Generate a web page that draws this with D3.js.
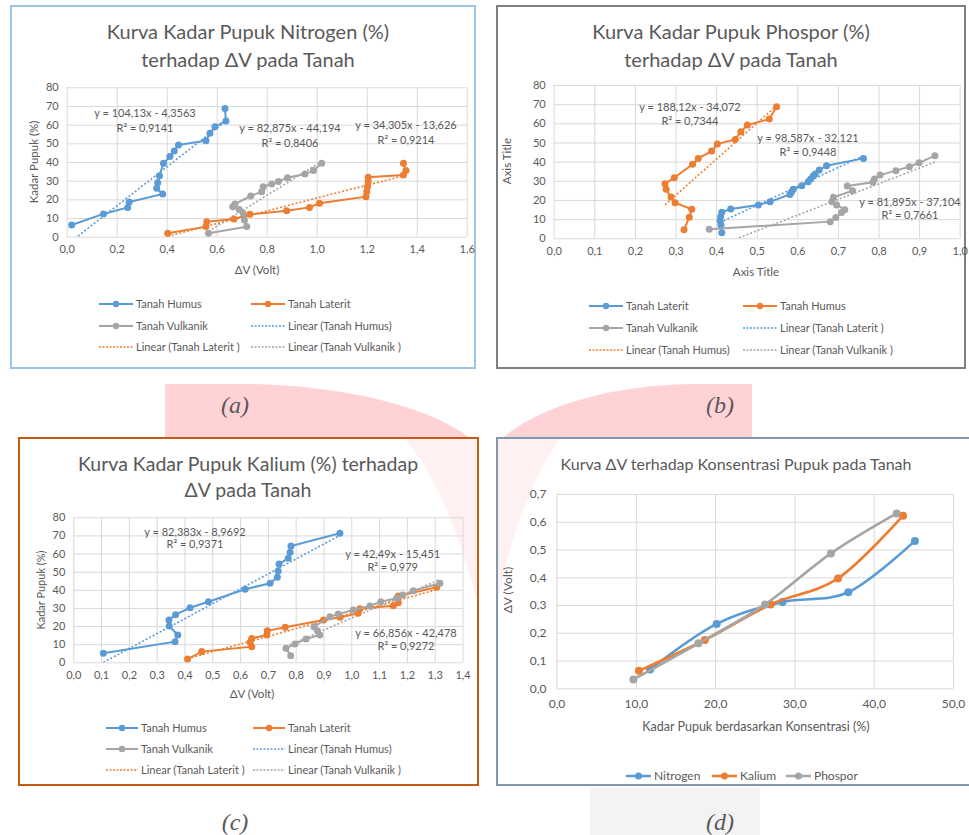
<!DOCTYPE html>
<html><head><meta charset="utf-8">
<script src="https://cdn.jsdelivr.net/npm/d3@7"></script>
<style>
body{margin:0;background:#fff}
svg{display:block}
text{font-family:Lato,'Noto Sans',sans-serif;fill:#595959}
</style></head>
<body><svg id="svg" width="969" height="835"></svg>
<script>
// ---------------- DATA ----------------
// Panel (a) Nitrogen
const aTitle = ["Kurva Kadar Pupuk Nitrogen (%)", "terhadap \u0394V pada Tanah"];
const aXTicks = [0,0.2,0.4,0.6,0.8,1.0,1.2,1.4,1.6];
const aYTicks = [0,10,20,30,40,50,60,70,80];
const aHumus = [[0.02,6.3],[0.147,12.2],[0.244,15.7],[0.25,18.6],[0.384,22.9],[0.36,25.9],[0.364,28.9],[0.371,32.7],[0.387,39.3],[0.413,42.9],[0.43,45.9],[0.447,49.1],[0.557,51.4],[0.573,55.4],[0.593,58.9],[0.637,62],[0.633,68.6]];
const aLaterit = [[0.404,1.8],[0.557,5.4],[0.56,8.0],[0.669,9.5],[0.733,12.0],[0.88,13.9],[0.971,15.7],[1.011,17.9],[1.197,21.4],[1.2,24.1],[1.203,26.8],[1.206,29.5],[1.206,31.9],[1.347,33],[1.357,35.4],[1.347,39.3]];
const aVulkanik = [[0.567,1.8],[0.72,5.4],[0.711,8.9],[0.706,12.5],[0.69,14.5],[0.664,16.1],[0.673,17.5],[0.736,21.8],[0.78,24.1],[0.786,26.8],[0.82,28.2],[0.847,29.5],[0.883,31.6],[0.953,33.6],[0.987,35.4],[1.02,39.3]];
const aTrendSlope = [104.13, 34.305, 82.875];
const aTrendIntercept = [-4.3563, -13.626, -44.194];
const aEq = ["y = 104,13x - 4,3563", "y = 34,305x - 13,626", "y = 82,875x - 44,194"];
const aR2 = ["R\u00b2 = 0,9141", "R\u00b2 = 0,9214", "R\u00b2 = 0,8406"];
const aLegend = ["Tanah Humus","Tanah Laterit","Tanah Vulkanik","Linear (Tanah Humus)","Linear (Tanah Laterit )","Linear (Tanah Vulkanik )"];

// Panel (b) Phospor
const bTitle = ["Kurva Kadar Pupuk Phospor (%)", "terhadap \u0394V pada Tanah"];
const bXTicks = [0,0.1,0.2,0.3,0.4,0.5,0.6,0.7,0.8,0.9,1.0];
const bYTicks = [0,10,20,30,40,50,60,70,80];
const bLaterit = [[0.414,2.9],[0.412,6.9],[0.41,9.2],[0.411,11.3],[0.414,13.6],[0.436,15.3],[0.504,17.4],[0.533,19.1],[0.582,22.9],[0.586,24.3],[0.59,25.6],[0.611,27.4],[0.627,29.5],[0.633,30.9],[0.639,32.5],[0.644,33.5],[0.654,35.6],[0.672,37.9],[0.763,41.7]];
const bHumus = [[0.321,4.5],[0.334,11.0],[0.34,15.1],[0.299,18.6],[0.289,21.5],[0.277,25.6],[0.274,28.5],[0.297,31.6],[0.342,38.6],[0.356,41.7],[0.389,45.5],[0.403,49.2],[0.447,51.6],[0.461,55.6],[0.477,59.1],[0.531,62.2],[0.549,68.7]];
const bVulkanik = [[0.383,4.7],[0.681,8.7],[0.695,10.9],[0.709,13.4],[0.717,14.9],[0.697,17.4],[0.685,19.1],[0.689,21.4],[0.736,24.8],[0.723,27.3],[0.786,29.2],[0.79,30.9],[0.804,33.0],[0.843,35.3],[0.876,37.4],[0.9,39.4],[0.939,43.1]];
const bTrendSlope = [98.587, 188.12, 81.895];
const bTrendIntercept = [-32.121, -34.072, -37.104];
const bEq = ["y = 98,587x - 32,121", "y = 188,12x - 34,072", "y = 81,895x - 37,104"];
const bR2 = ["R\u00b2 = 0,9448", "R\u00b2 = 0,7344", "R\u00b2 = 0,7661"];
const bLegend = ["Tanah Laterit","Tanah Humus","Tanah Vulkanik","Linear (Tanah Laterit )","Linear (Tanah Humus)","Linear (Tanah Vulkanik )"];

// Panel (c) Kalium
const cTitle = ["Kurva Kadar Pupuk Kalium (%) terhadap", "\u0394V pada Tanah"];
const cXTicks = [0,0.1,0.2,0.3,0.4,0.5,0.6,0.7,0.8,0.9,1.0,1.1,1.2,1.3,1.4];
const cYTicks = [0,10,20,30,40,50,60,70,80];
const cHumus = [[0.108,5.0],[0.366,11.4],[0.376,15.1],[0.345,20.0],[0.344,23.3],[0.368,26.3],[0.42,30.1],[0.486,33.4],[0.618,40.3],[0.708,43.6],[0.734,46.9],[0.737,50.4],[0.74,54.2],[0.773,57.4],[0.78,60.7],[0.783,64.2],[0.959,71.2]];
const cLaterit = [[0.411,1.8],[0.462,5.9],[0.642,8.6],[0.636,11.0],[0.642,13.2],[0.696,15.1],[0.698,17.4],[0.762,19.3],[0.9,23.3],[0.96,24.8],[1.025,27.0],[1.031,29.6],[1.151,31.2],[1.169,32.9],[1.169,36.6],[1.307,41.4]];
const cVulkanik = [[0.782,3.6],[0.765,7.7],[0.797,10.1],[0.837,12.9],[0.887,15.1],[0.878,17.4],[0.866,19.6],[0.923,25.2],[0.953,26.6],[1.007,28.9],[1.067,31.1],[1.106,33.4],[1.163,35.3],[1.185,37.1],[1.223,39.5],[1.319,43.6]];
const cTrendSlope = [82.383, 42.49, 66.856];
const cTrendIntercept = [-8.9692, -15.451, -42.478];
const cEq = ["y = 82,383x - 8,9692", "y = 42,49x - 15,451", "y = 66,856x - 42,478"];
const cR2 = ["R\u00b2 = 0,9371", "R\u00b2 = 0,979", "R\u00b2 = 0,9272"];
const cLegend = aLegend;

// Panel (d) dV vs concentration
const dTitle = "Kurva \u0394V terhadap Konsentrasi  Pupuk pada Tanah";
const dXTicks = [0,10,20,30,40,50];
const dYTicks = [0,0.1,0.2,0.3,0.4,0.5,0.6,0.7];
const dNitrogen = [[11.8,0.068],[20.2,0.232],[28.5,0.311],[36.8,0.346],[45.2,0.531]];
const dKalium = [[10.4,0.063],[18.7,0.174],[27.0,0.302],[35.5,0.396],[43.7,0.622]];
const dPhospor = [[9.7,0.032],[17.9,0.162],[26.3,0.302],[34.6,0.486],[42.9,0.630]];
const dLegend = ["Nitrogen","Kalium","Phospor"];

const panelLabels = ["(a)","(b)","(c)","(d)"];

// ---------------- DRAWING ----------------
const BLUE="#5B9BD5", ORANGE="#ED7D31", GRAY="#A5A5A5", TXT="#595959", GRID="#D9D9D9";
const PINK="#FFD3D6";
const svg = d3.select("#svg");
const loc = d3.formatLocale({decimal:",", thousands:".", grouping:[3], currency:["",""]});
const f1 = loc.format(".1f");
const fInt = d3.format("d");

// decorative background shapes
svg.append("path").attr("d","M165,384 L165,440 L472,440 C430,405 340,386 250,384 Z").attr("fill",PINK);
svg.append("path").attr("d","M752,384 L752,440 L500,440 C540,405 610,386 690,384 Z").attr("fill",PINK);
svg.append("rect").attr("x",590).attr("y",788).attr("width",170).attr("height",47).attr("fill","#F3F3F3");

const frames = [[11,6,464,362,"#9DC3E6"],[497,6,468,362,"#7F7F7F"],[19,438,459,347,"#C55A11"],[497,438,474,347,"#8497B0"]];
frames.forEach(f=>svg.append("rect").attr("x",f[0]).attr("y",f[1]).attr("width",f[2]).attr("height",f[3]).attr("fill","#fff"));

// faint pink bleed inside lower panels near the centre
svg.append("path").attr("d","M405,439 L477,439 L477,600 C460,540 440,480 405,439 Z").attr("fill",PINK).attr("opacity",0.35);
svg.append("path").attr("d","M498,439 L560,439 C530,480 510,540 498,600 Z").attr("fill",PINK).attr("opacity",0.35);

frames.forEach(f=>svg.append("rect").attr("x",f[0]).attr("y",f[1]).attr("width",f[2]).attr("height",f[3])
  .attr("fill","none").attr("stroke",f[4]).attr("stroke-width",2));

let clipId = 0;
function chart(cfg){
  const g = svg.append("g");
  const x = d3.scaleLinear().domain(cfg.xDomain).range(cfg.xRange);
  const y = d3.scaleLinear().domain(cfg.yDomain).range(cfg.yRange);
  g.append("g").attr("transform",`translate(0,${cfg.yRange[0]})`)
    .call(d3.axisBottom(x).tickValues(cfg.xTicks).tickSize(-(cfg.yRange[0]-cfg.yRange[1])).tickFormat(""))
    .call(s=>{s.select(".domain").remove(); s.selectAll("line").attr("stroke",GRID);});
  g.append("g").attr("transform",`translate(${cfg.xRange[0]},0)`)
    .call(d3.axisLeft(y).tickValues(cfg.yTicks).tickSize(-(cfg.xRange[1]-cfg.xRange[0])).tickFormat(""))
    .call(s=>{s.select(".domain").remove(); s.selectAll("line").attr("stroke",GRID);});
  g.append("g").attr("transform",`translate(0,${cfg.yRange[0]})`)
    .call(d3.axisBottom(x).tickValues(cfg.xTicks).tickSize(0).tickPadding(cfg.xPad||9).tickFormat(cfg.xFmt))
    .call(s=>{s.select(".domain").remove(); s.selectAll("text").attr("font-size",cfg.tickSize||11).attr("fill",TXT).style("font-family","Lato,'Noto Sans',sans-serif");});
  g.append("g").attr("transform",`translate(${cfg.xRange[0]},0)`)
    .call(d3.axisLeft(y).tickValues(cfg.yTicks).tickSize(0).tickPadding(cfg.yPad||8).tickFormat(cfg.yFmt))
    .call(s=>{s.select(".domain").remove(); s.selectAll("text").attr("font-size",cfg.tickSize||11).attr("fill",TXT).style("font-family","Lato,'Noto Sans',sans-serif");});
  const id = "clip"+(clipId++);
  svg.append("clipPath").attr("id",id).append("rect")
    .attr("x",cfg.xRange[0]).attr("y",cfg.yRange[1])
    .attr("width",cfg.xRange[1]-cfg.xRange[0]).attr("height",cfg.yRange[0]-cfg.yRange[1]);
  const pg = g.append("g").attr("clip-path",`url(#${id})`);
  (cfg.trends||[]).forEach(t=>{
    const xs = t.data.map(d=>d[0]);
    const x0 = d3.min(xs), x1 = d3.max(xs);
    pg.append("line").attr("x1",x(x0)).attr("y1",y(t.m*x0+t.b)).attr("x2",x(x1)).attr("y2",y(t.m*x1+t.b))
      .attr("stroke",t.color).attr("stroke-width",1.6).attr("stroke-dasharray","2,2");
  });
  const line = d3.line().x(d=>x(d[0])).y(d=>y(d[1])).curve(cfg.curve||d3.curveLinear);
  cfg.series.forEach(s=>{
    g.append("path").datum(s.data).attr("d",line).attr("fill","none").attr("stroke",s.color).attr("stroke-width",cfg.lw||2);
    g.selectAll(null).data(s.data).join("circle").attr("cx",d=>x(d[0])).attr("cy",d=>y(d[1])).attr("r",cfg.r||3.5).attr("fill",s.color);
  });
  (cfg.labels||[]).forEach(l=>{
    l.lines.forEach((t,i)=>{
      g.append("text").attr("x",l.x).attr("y",l.y+i*l.dy).attr("text-anchor","middle").attr("font-size",11).attr("fill",l.color).text(t);
    });
  });
  return {x,y};
}

function text(x,y,str,size,opts={}){
  const t = svg.append("text").attr("x",x).attr("y",y).attr("font-size",size).attr("text-anchor",opts.anchor||"middle").attr("fill",opts.color||TXT).text(str);
  if(opts.rotate) t.attr("transform",`rotate(-90,${x},${y})`);
  if(opts.family) t.style("font-family",opts.family);
  if(opts.style) t.attr("font-style",opts.style);
  return t;
}
function legendItem(x,y,w,color,label,dotted,marker){
  const l = svg.append("line").attr("x1",x).attr("x2",x+w).attr("y1",y).attr("y2",y).attr("stroke",color);
  if(dotted) l.attr("stroke-width",1.5).attr("stroke-dasharray","2,1.5");
  else l.attr("stroke-width",2);
  if(marker && !dotted) svg.append("circle").attr("cx",x+w/2).attr("cy",y).attr("r",3.2).attr("fill",color);
  text(x+w+3,y+4,label,11,{anchor:"start"});
}
function legend6(items,colors,col1,col2,rows,w){
  const pos = [[col1,rows[0]],[col2,rows[0]],[col1,rows[1]],[col2,rows[1]],[col1,rows[2]],[col2,rows[2]]];
  items.forEach((it,i)=>legendItem(pos[i][0],pos[i][1],w,colors[i%3],it,i>=3,true));
}

// ---- (a)
chart({xDomain:[0,1.6], xRange:[66.7,466.7], yDomain:[0,80], yRange:[236.7,87.3],
  xTicks:aXTicks, yTicks:aYTicks, xFmt:f1, yFmt:fInt,
  series:[{data:aHumus,color:BLUE},{data:aLaterit,color:ORANGE},{data:aVulkanik,color:GRAY}],
  trends:[{data:aHumus,m:aTrendSlope[0],b:aTrendIntercept[0],color:BLUE},
          {data:aLaterit,m:aTrendSlope[1],b:aTrendIntercept[1],color:ORANGE},
          {data:aVulkanik,m:aTrendSlope[2],b:aTrendIntercept[2],color:GRAY}],
  labels:[{x:145,y:117,dy:14.5,color:TXT,lines:[aEq[0],aR2[0]]},
          {x:406,y:129,dy:14.5,color:ORANGE,lines:[aEq[1],aR2[1]]},
          {x:290,y:132,dy:14.5,color:TXT,lines:[aEq[2],aR2[2]]}]});
text(248,39,aTitle[0],20); text(248,67,aTitle[1],20);
text(38,162,"Kadar Pupuk (%)",11.5,{rotate:true});
text(257,274,"\u0394V (Volt)",11.5);
legend6(aLegend,[BLUE,ORANGE,GRAY],99,251,[304,326,347],34);

// ---- (b)
chart({xDomain:[0,1.0], xRange:[553.7,959.7], yDomain:[0,80], yRange:[238.3,85],
  xTicks:bXTicks, yTicks:bYTicks, xFmt:f1, yFmt:fInt,
  series:[{data:bLaterit,color:BLUE},{data:bHumus,color:ORANGE},{data:bVulkanik,color:GRAY}],
  trends:[{data:bLaterit,m:bTrendSlope[0],b:bTrendIntercept[0],color:BLUE},
          {data:bHumus,m:bTrendSlope[1],b:bTrendIntercept[1],color:ORANGE},
          {data:bVulkanik,m:bTrendSlope[2],b:bTrendIntercept[2],color:GRAY}],
  labels:[{x:808,y:141.5,dy:14,color:BLUE,lines:[bEq[0],bR2[0]]},
          {x:690,y:111,dy:13.5,color:ORANGE,lines:[bEq[1],bR2[1]]},
          {x:910,y:206,dy:13,color:TXT,lines:[bEq[2],bR2[2]]}]});
text(731,39,bTitle[0],20); text(731,67,bTitle[1],20);
text(511,161,"Axis Title",11.5,{rotate:true});
text(756,276,"Axis Title",11.5);
legend6(bLegend,[BLUE,ORANGE,GRAY],589,743,[306,328,350],34);

// ---- (c)
chart({xDomain:[0,1.4], xRange:[73.3,462.5], yDomain:[0,80], yRange:[662.3,517.3],
  xTicks:cXTicks, yTicks:cYTicks, xFmt:f1, yFmt:fInt,
  series:[{data:cHumus,color:BLUE},{data:cLaterit,color:ORANGE},{data:cVulkanik,color:GRAY}],
  trends:[{data:cHumus,m:cTrendSlope[0],b:cTrendIntercept[0],color:BLUE},
          {data:cLaterit,m:cTrendSlope[1],b:cTrendIntercept[1],color:ORANGE},
          {data:cVulkanik,m:cTrendSlope[2],b:cTrendIntercept[2],color:GRAY}],
  labels:[{x:195,y:535.5,dy:12.7,color:BLUE,lines:[cEq[0],cR2[0]]},
          {x:392.7,y:558,dy:13,color:ORANGE,lines:[cEq[1],cR2[1]]},
          {x:406,y:637,dy:12.7,color:TXT,lines:[cEq[2],cR2[2]]}]});
text(248,471,cTitle[0],19.5); text(248,497,cTitle[1],19.5);
text(45,590,"Kadar Pupuk  (%)",11,{rotate:true});
text(252,698,"\u0394V (Volt)",11.5);
legend6(cLegend,[BLUE,ORANGE,GRAY],106,253,[728,749,770],32);

// ---- (d)
chart({xDomain:[0,50], xRange:[556.5,953], yDomain:[0,0.7], yRange:[688.3,494],
  xTicks:dXTicks, yTicks:dYTicks, xFmt:f1, yFmt:f1, tickSize:12, xPad:11, yPad:10,
  curve:d3.curveCatmullRom.alpha(0), lw:2.6, r:4,
  series:[{data:dNitrogen,color:BLUE},{data:dKalium,color:ORANGE},{data:dPhospor,color:GRAY}]});
text(736,470,dTitle,16);
text(512,590,"\u0394V (Volt)",12,{rotate:true});
text(756,731,"Kadar Pupuk berdasarkan Konsentrasi (%)",12.5);
[[626,BLUE],[712,ORANGE],[786,GRAY]].forEach((p,i)=>{
  svg.append("line").attr("x1",p[0]).attr("x2",p[0]+25).attr("y1",776).attr("y2",776).attr("stroke",p[1]).attr("stroke-width",2.5);
  svg.append("circle").attr("cx",p[0]+12.5).attr("cy",776).attr("r",3.5).attr("fill",p[1]);
  text(p[0]+28,780,dLegend[i],12,{anchor:"start"});
});

// panel letters
const serif = "'Liberation Serif','DejaVu Serif',serif";
text(235,413,panelLabels[0],24,{family:serif,style:"italic",color:"#000"});
text(720,413,panelLabels[1],24,{family:serif,style:"italic",color:"#000"});
text(235,830,panelLabels[2],24,{family:serif,style:"italic",color:"#000"});
text(720,830,panelLabels[3],24,{family:serif,style:"italic",color:"#000"});
</script></body></html>
